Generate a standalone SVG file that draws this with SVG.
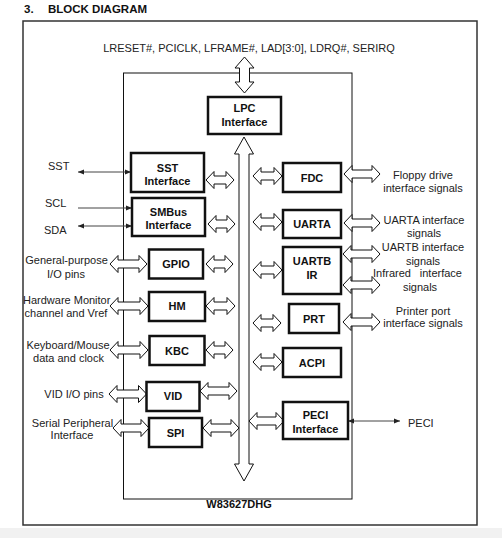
<svg xmlns="http://www.w3.org/2000/svg" width="502" height="538" viewBox="0 0 502 538">
<defs>
<style>
.frame{fill:none;stroke:#333;stroke-width:1.5}
.chip{fill:none;stroke:#111;stroke-width:1}
.box{fill:#fff;stroke:#111;stroke-width:2.5}
.blk{fill:#fff;stroke:#111;stroke-width:1}
.ln{stroke:#444;stroke-width:1;fill:none}
.lbl{font-family:"Liberation Sans",Arial,sans-serif;font-size:11px;fill:#222}
.nd{font-family:"Liberation Sans",Arial,sans-serif;font-size:11px;font-weight:bold;fill:#111;text-anchor:middle}
.c{text-anchor:middle}
.ttl{font-family:"Liberation Sans",Arial,sans-serif;font-size:11.5px;font-weight:bold;fill:#111}
</style>
<marker id="ah" viewBox="0 0 10 10" refX="10" refY="5" markerWidth="6" markerHeight="6" orient="auto-start-reverse" markerUnits="userSpaceOnUse">
<path d="M0,1 L10,5 L0,9 Z" fill="#222"/>
</marker>
</defs>
<rect width="502" height="538" fill="#fff"/>
<rect x="0" y="528" width="502" height="10" fill="#f1f1f1"/>
<text class="ttl" x="24" y="13">3.</text>
<text class="ttl" x="48" y="13">BLOCK DIAGRAM</text>
<rect class="frame" x="23" y="21" width="454" height="504"/>
<rect class="chip" x="123.5" y="73" width="228.5" height="426"/>
<text class="lbl c" x="249" y="52">LRESET#, PCICLK, LFRAME#, LAD[3:0], LDRQ#, SERIRQ</text>
<text class="nd" x="239" y="508">W83627DHG</text>

<g id="connectors">
<path class="blk" d="M244.5 57 L254 68 L249.5 68 L249.5 82 L254 82 L244.5 93 L235 82 L239.5 82 L239.5 68 L235 68 Z"/>
<path class="blk" d="M244 137 L253.5 154 L249 154 L249 464 L253.5 464 L244 481 L234.5 464 L239 464 L239 154 L234.5 154 Z"/>
<line class="ln" x1="78" y1="172" x2="131" y2="172" marker-start="url(#ah)" marker-end="url(#ah)"/>
<line class="ln" x1="78" y1="208" x2="132" y2="208" stroke="#777" marker-end="url(#ah)"/>
<line class="ln" x1="78" y1="226" x2="132" y2="226" marker-start="url(#ah)" marker-end="url(#ah)"/>
<line class="ln" x1="348" y1="421" x2="400" y2="421" marker-start="url(#ah)" marker-end="url(#ah)"/>
<path class="blk" d="M110 264 L118 255.5 L118 260 L139 260 L139 255.5 L147 264 L139 272.5 L139 268 L118 268 L118 272.5 Z"/>
<path class="blk" d="M110 306 L118 297.5 L118 302 L140 302 L140 297.5 L148 306 L140 314.5 L140 310 L118 310 L118 314.5 Z"/>
<path class="blk" d="M110 350 L118 341.5 L118 346 L140 346 L140 341.5 L148 350 L140 358.5 L140 354 L118 354 L118 358.5 Z"/>
<path class="blk" d="M109 394 L117 385.5 L117 390 L138.5 390 L138.5 385.5 L146.5 394 L138.5 402.5 L138.5 398 L117 398 L117 402.5 Z"/>
<path class="blk" d="M113 428 L121 419.5 L121 424 L141 424 L141 419.5 L149 428 L141 436.5 L141 432 L121 432 L121 436.5 Z"/>
<path class="blk" d="M206 180 L214 171.5 L214 176 L226 176 L226 171.5 L234 180 L226 188.5 L226 184 L214 184 L214 188.5 Z"/>
<path class="blk" d="M208 224 L216 215.5 L216 220 L227 220 L227 215.5 L235 224 L227 232.5 L227 228 L216 228 L216 232.5 Z"/>
<path class="blk" d="M206 264 L214 255.5 L214 260 L225 260 L225 255.5 L233 264 L225 272.5 L225 268 L214 268 L214 272.5 Z"/>
<path class="blk" d="M206 306 L214 297.5 L214 302 L227 302 L227 297.5 L235 306 L227 314.5 L227 310 L214 310 L214 314.5 Z"/>
<path class="blk" d="M206 350 L214 341.5 L214 346 L225 346 L225 341.5 L233 350 L225 358.5 L225 354 L214 354 L214 358.5 Z"/>
<path class="blk" d="M200 391 L208 382.5 L208 387 L229 387 L229 382.5 L237 391 L229 399.5 L229 395 L208 395 L208 399.5 Z"/>
<path class="blk" d="M203 428 L211 419.5 L211 424 L231 424 L231 419.5 L239 428 L231 436.5 L231 432 L211 432 L211 436.5 Z"/>
<path class="blk" d="M253 176 L261 167.5 L261 172 L274 172 L274 167.5 L282 176 L274 184.5 L274 180 L261 180 L261 184.5 Z"/>
<path class="blk" d="M253 222 L261 213.5 L261 218 L274 218 L274 213.5 L282 222 L274 230.5 L274 226 L261 226 L261 230.5 Z"/>
<path class="blk" d="M253 270 L261 261.5 L261 266 L274 266 L274 261.5 L282 270 L274 278.5 L274 274 L261 274 L261 278.5 Z"/>
<path class="blk" d="M253 323 L261 314.5 L261 319 L273 319 L273 314.5 L281 323 L273 331.5 L273 327 L261 327 L261 331.5 Z"/>
<path class="blk" d="M253 362 L261 353.5 L261 358 L274 358 L274 353.5 L282 362 L274 370.5 L274 366 L261 366 L261 370.5 Z"/>
<path class="blk" d="M249 421 L257 412.5 L257 417 L276 417 L276 412.5 L284 421 L276 429.5 L276 425 L257 425 L257 429.5 Z"/>
<path class="blk" d="M344 174 L352 165.5 L352 170 L372 170 L372 165.5 L380 174 L372 182.5 L372 178 L352 178 L352 182.5 Z"/>
<path class="blk" d="M344 223 L352 214.5 L352 219 L372 219 L372 214.5 L380 223 L372 231.5 L372 227 L352 227 L352 231.5 Z"/>
<path class="blk" d="M343 254 L351 245.5 L351 250 L372 250 L372 245.5 L380 254 L372 262.5 L372 258 L351 258 L351 262.5 Z"/>
<path class="blk" d="M343 285 L351 276.5 L351 281 L372 281 L372 276.5 L380 285 L372 293.5 L372 289 L351 289 L351 293.5 Z"/>
<path class="blk" d="M343 322 L351 313.5 L351 318 L372 318 L372 313.5 L380 322 L372 330.5 L372 326 L351 326 L351 330.5 Z"/>
</g>

<g id="lpc"><rect class="box" x="208" y="97" width="73" height="37"/><text class="nd" x="244.5" y="112">LPC</text><text class="nd" x="244.5" y="126">Interface</text></g>
<g id="sst"><rect class="box" x="131" y="153" width="73" height="39"/><text class="nd" x="167.5" y="172">SST</text><text class="nd" x="167.5" y="185">Interface</text></g>
<g id="smbus"><rect class="box" x="132" y="198" width="73" height="38"/><text class="nd" x="168.5" y="216">SMBus</text><text class="nd" x="168.5" y="229">Interface</text></g>
<g id="gpio"><rect class="box" x="149" y="249.5" width="54" height="29"/><text class="nd" x="176" y="268">GPIO</text></g>
<g id="hm"><rect class="box" x="149" y="292" width="56" height="29"/><text class="nd" x="177" y="310">HM</text></g>
<g id="kbc"><rect class="box" x="149.5" y="336" width="55" height="29"/><text class="nd" x="177" y="354.5">KBC</text></g>
<g id="vid"><rect class="box" x="146.5" y="382" width="53" height="29"/><text class="nd" x="173" y="400">VID</text></g>
<g id="spi"><rect class="box" x="149" y="418" width="53" height="29"/><text class="nd" x="175.5" y="436.5">SPI</text></g>
<g id="fdc"><rect class="box" x="283" y="163" width="58" height="29"/><text class="nd" x="312" y="181.5">FDC</text></g>
<g id="uarta"><rect class="box" x="283" y="210" width="58" height="28"/><text class="nd" x="312" y="228">UARTA</text></g>
<g id="uartb"><rect class="box" x="283" y="247" width="58" height="47"/><text class="nd" x="312" y="265">UARTB</text><text class="nd" x="312" y="279">IR</text></g>
<g id="prt"><rect class="box" x="289" y="304" width="50" height="29"/><text class="nd" x="314" y="322.5">PRT</text></g>
<g id="acpi"><rect class="box" x="283" y="348" width="58" height="29"/><text class="nd" x="312" y="366.5">ACPI</text></g>
<g id="peci"><rect class="box" x="283" y="402" width="65" height="37"/><text class="nd" x="315.5" y="419">PECI</text><text class="nd" x="315.5" y="433">Interface</text></g>

<g id="labels">
<text class="lbl" x="48" y="170">SST</text>
<text class="lbl" x="45" y="206.5">SCL</text>
<text class="lbl" x="44" y="234">SDA</text>
<text class="lbl c" x="66.5" y="264">General-purpose</text>
<text class="lbl c" x="66" y="277.5">I/O pins</text>
<text class="lbl c" x="66.7" y="304">Hardware Monitor</text>
<text class="lbl c" x="66" y="317">channel and Vref</text>
<text class="lbl c" x="68" y="349">Keyboard/Mouse</text>
<text class="lbl c" x="68.5" y="362">data and clock</text>
<text class="lbl c" x="74" y="398">VID I/O pins</text>
<text class="lbl c" x="72.5" y="427">Serial Peripheral</text>
<text class="lbl c" x="72" y="439">Interface</text>
<text class="lbl c" x="423" y="179">Floppy drive</text>
<text class="lbl c" x="423" y="192">interface signals</text>
<text class="lbl c" x="424" y="224">UARTA interface</text>
<text class="lbl c" x="424" y="237">signals</text>
<text class="lbl c" x="423" y="251">UARTB interface</text>
<text class="lbl c" x="423" y="265">signals</text>
<text class="lbl" x="373" y="277">Infrared</text>
<text class="lbl" x="462" y="277" text-anchor="end">interface</text>
<text class="lbl c" x="420" y="291">signals</text>
<text class="lbl c" x="423" y="315">Printer port</text>
<text class="lbl c" x="423" y="327">interface signals</text>
<text class="lbl" x="408" y="427">PECI</text>
</g>
</svg>
